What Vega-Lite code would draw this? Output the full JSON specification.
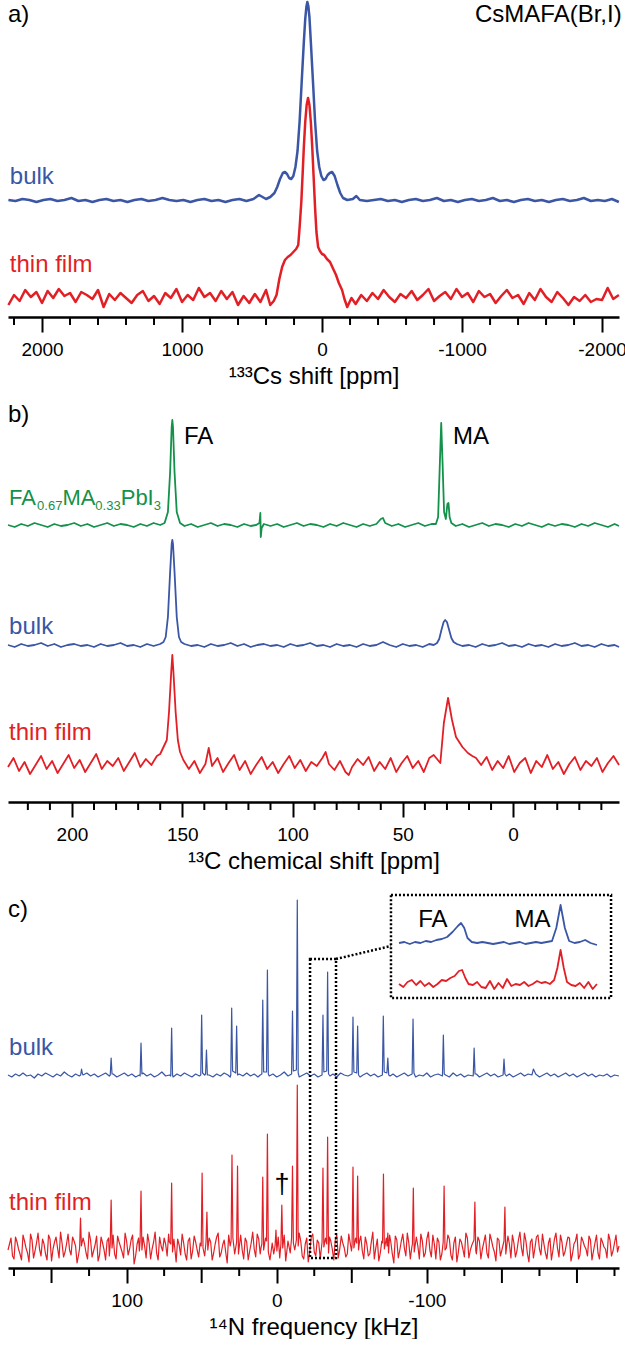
{
"$schema": "https://vega.github.io/schema/vega-lite/v6.json",
"padding": {"left": 7, "top": 0, "right": 0, "bottom": 0},
"bounds": "flush",
"spacing": 80,
"config": {
 "view": {"stroke": null},
 "font": "Liberation Sans",
 "axisX": {"domainColor": "#000", "domainWidth": 2.5, "tickColor": "#000", "tickWidth": 2, "labelFont": "Liberation Sans", "labelFontSize": 19, "labelColor": "#000", "labelPadding": 8, "labelOverlap": false, "labelFlush": false, "labelBound": false, "titleFont": "Liberation Sans", "titleFontSize": 24, "titleFontWeight": "normal", "titleColor": "#000", "titlePadding": 5, "grid": false},
 "text": {"font": "Liberation Sans", "fontSize": 24}
},
"datasets": {
 "a": [
{"s":"bulk","f":2240,"i":117},{"s":"bulk","f":2190,"i":116},{"s":"bulk","f":2140,"i":118},{"s":"bulk","f":2090,"i":117},{"s":"bulk","f":2040,"i":115},{"s":"bulk","f":1990,"i":117},{"s":"bulk","f":1940,"i":118},{"s":"bulk","f":1890,"i":116},{"s":"bulk","f":1840,"i":117},{"s":"bulk","f":1790,"i":119},{"s":"bulk","f":1740,"i":116},{"s":"bulk","f":1690,"i":117},{"s":"bulk","f":1640,"i":115},{"s":"bulk","f":1590,"i":117},{"s":"bulk","f":1540,"i":118},{"s":"bulk","f":1490,"i":116},{"s":"bulk","f":1440,"i":117},{"s":"bulk","f":1390,"i":115},{"s":"bulk","f":1340,"i":117},{"s":"bulk","f":1290,"i":118},{"s":"bulk","f":1240,"i":116},{"s":"bulk","f":1190,"i":117},{"s":"bulk","f":1140,"i":119},{"s":"bulk","f":1090,"i":117},{"s":"bulk","f":1040,"i":116},{"s":"bulk","f":990,"i":117},{"s":"bulk","f":940,"i":115},{"s":"bulk","f":890,"i":117},{"s":"bulk","f":840,"i":118},{"s":"bulk","f":790,"i":116},{"s":"bulk","f":740,"i":117},{"s":"bulk","f":690,"i":115},{"s":"bulk","f":640,"i":117},{"s":"bulk","f":590,"i":118},{"s":"bulk","f":540,"i":116},{"s":"bulk","f":490,"i":118},{"s":"bulk","f":450,"i":122},{"s":"bulk","f":425,"i":120},{"s":"bulk","f":400,"i":118},{"s":"bulk","f":370,"i":120},{"s":"bulk","f":340,"i":124},{"s":"bulk","f":320,"i":130},{"s":"bulk","f":300,"i":138},{"s":"bulk","f":280,"i":144},{"s":"bulk","f":265,"i":145},{"s":"bulk","f":250,"i":143},{"s":"bulk","f":235,"i":139},{"s":"bulk","f":220,"i":138},{"s":"bulk","f":205,"i":141},{"s":"bulk","f":190,"i":150},{"s":"bulk","f":175,"i":166},{"s":"bulk","f":160,"i":196},{"s":"bulk","f":145,"i":236},{"s":"bulk","f":130,"i":275},{"s":"bulk","f":120,"i":298},{"s":"bulk","f":112,"i":310},{"s":"bulk","f":105,"i":315},{"s":"bulk","f":98,"i":311},{"s":"bulk","f":90,"i":300},{"s":"bulk","f":80,"i":275},{"s":"bulk","f":65,"i":236},{"s":"bulk","f":50,"i":196},{"s":"bulk","f":35,"i":166},{"s":"bulk","f":20,"i":150},{"s":"bulk","f":5,"i":141},{"s":"bulk","f":-10,"i":137},{"s":"bulk","f":-25,"i":138},{"s":"bulk","f":-40,"i":142},{"s":"bulk","f":-55,"i":144},{"s":"bulk","f":-72,"i":145},{"s":"bulk","f":-90,"i":141},{"s":"bulk","f":-110,"i":132},{"s":"bulk","f":-130,"i":124},{"s":"bulk","f":-150,"i":119},{"s":"bulk","f":-180,"i":117},{"s":"bulk","f":-220,"i":118},{"s":"bulk","f":-245,"i":121},{"s":"bulk","f":-270,"i":117},{"s":"bulk","f":-320,"i":116},{"s":"bulk","f":-370,"i":117},{"s":"bulk","f":-420,"i":118},{"s":"bulk","f":-470,"i":116},{"s":"bulk","f":-520,"i":117},{"s":"bulk","f":-570,"i":115},{"s":"bulk","f":-620,"i":117},{"s":"bulk","f":-670,"i":118},{"s":"bulk","f":-720,"i":116},{"s":"bulk","f":-770,"i":117},{"s":"bulk","f":-820,"i":119},{"s":"bulk","f":-870,"i":116},{"s":"bulk","f":-920,"i":117},{"s":"bulk","f":-970,"i":115},{"s":"bulk","f":-1020,"i":117},{"s":"bulk","f":-1070,"i":118},{"s":"bulk","f":-1120,"i":116},{"s":"bulk","f":-1170,"i":117},{"s":"bulk","f":-1220,"i":119},{"s":"bulk","f":-1270,"i":116},{"s":"bulk","f":-1320,"i":117},{"s":"bulk","f":-1370,"i":115},{"s":"bulk","f":-1420,"i":117},{"s":"bulk","f":-1470,"i":118},{"s":"bulk","f":-1520,"i":116},{"s":"bulk","f":-1570,"i":117},{"s":"bulk","f":-1620,"i":115},{"s":"bulk","f":-1670,"i":117},{"s":"bulk","f":-1720,"i":118},{"s":"bulk","f":-1770,"i":116},{"s":"bulk","f":-1820,"i":117},{"s":"bulk","f":-1870,"i":119},{"s":"bulk","f":-1920,"i":116},{"s":"bulk","f":-1970,"i":117},{"s":"bulk","f":-2020,"i":116},{"s":"bulk","f":-2070,"i":118},{"s":"bulk","f":-2120,"i":115},
{"s":"film","f":2240,"i":12},{"s":"film","f":2200,"i":22},{"s":"film","f":2160,"i":16},{"s":"film","f":2120,"i":27},{"s":"film","f":2080,"i":20},{"s":"film","f":2040,"i":25},{"s":"film","f":2000,"i":14},{"s":"film","f":1960,"i":26},{"s":"film","f":1920,"i":19},{"s":"film","f":1880,"i":28},{"s":"film","f":1840,"i":21},{"s":"film","f":1800,"i":24},{"s":"film","f":1760,"i":15},{"s":"film","f":1720,"i":25},{"s":"film","f":1680,"i":22},{"s":"film","f":1640,"i":18},{"s":"film","f":1600,"i":27},{"s":"film","f":1560,"i":10},{"s":"film","f":1520,"i":23},{"s":"film","f":1480,"i":17},{"s":"film","f":1440,"i":24},{"s":"film","f":1400,"i":19},{"s":"film","f":1360,"i":14},{"s":"film","f":1320,"i":22},{"s":"film","f":1280,"i":26},{"s":"film","f":1240,"i":16},{"s":"film","f":1200,"i":21},{"s":"film","f":1160,"i":13},{"s":"film","f":1120,"i":24},{"s":"film","f":1080,"i":19},{"s":"film","f":1040,"i":28},{"s":"film","f":1000,"i":15},{"s":"film","f":960,"i":22},{"s":"film","f":920,"i":17},{"s":"film","f":880,"i":29},{"s":"film","f":840,"i":20},{"s":"film","f":800,"i":24},{"s":"film","f":760,"i":16},{"s":"film","f":720,"i":26},{"s":"film","f":680,"i":18},{"s":"film","f":640,"i":25},{"s":"film","f":600,"i":12},{"s":"film","f":560,"i":21},{"s":"film","f":520,"i":14},{"s":"film","f":480,"i":23},{"s":"film","f":440,"i":15},{"s":"film","f":400,"i":27},{"s":"film","f":370,"i":12},{"s":"film","f":345,"i":16},{"s":"film","f":325,"i":22},{"s":"film","f":305,"i":38},{"s":"film","f":285,"i":50},{"s":"film","f":265,"i":57},{"s":"film","f":245,"i":60},{"s":"film","f":225,"i":62},{"s":"film","f":205,"i":65},{"s":"film","f":185,"i":68},{"s":"film","f":170,"i":72},{"s":"film","f":160,"i":90},{"s":"film","f":148,"i":115},{"s":"film","f":138,"i":145},{"s":"film","f":130,"i":170},{"s":"film","f":120,"i":195},{"s":"film","f":110,"i":212},{"s":"film","f":100,"i":219},{"s":"film","f":90,"i":212},{"s":"film","f":80,"i":195},{"s":"film","f":70,"i":170},{"s":"film","f":60,"i":140},{"s":"film","f":50,"i":110},{"s":"film","f":40,"i":85},{"s":"film","f":28,"i":70},{"s":"film","f":15,"i":66},{"s":"film","f":0,"i":63},{"s":"film","f":-15,"i":62},{"s":"film","f":-35,"i":58},{"s":"film","f":-57,"i":55},{"s":"film","f":-80,"i":48},{"s":"film","f":-100,"i":42},{"s":"film","f":-120,"i":34},{"s":"film","f":-143,"i":27},{"s":"film","f":-160,"i":18},{"s":"film","f":-180,"i":10},{"s":"film","f":-210,"i":19},{"s":"film","f":-240,"i":13},{"s":"film","f":-280,"i":22},{"s":"film","f":-320,"i":16},{"s":"film","f":-360,"i":24},{"s":"film","f":-400,"i":18},{"s":"film","f":-440,"i":27},{"s":"film","f":-480,"i":20},{"s":"film","f":-520,"i":15},{"s":"film","f":-560,"i":23},{"s":"film","f":-600,"i":19},{"s":"film","f":-640,"i":26},{"s":"film","f":-680,"i":17},{"s":"film","f":-720,"i":22},{"s":"film","f":-760,"i":28},{"s":"film","f":-800,"i":16},{"s":"film","f":-840,"i":21},{"s":"film","f":-880,"i":25},{"s":"film","f":-920,"i":18},{"s":"film","f":-960,"i":28},{"s":"film","f":-1000,"i":20},{"s":"film","f":-1040,"i":24},{"s":"film","f":-1080,"i":15},{"s":"film","f":-1120,"i":26},{"s":"film","f":-1160,"i":20},{"s":"film","f":-1200,"i":23},{"s":"film","f":-1240,"i":14},{"s":"film","f":-1280,"i":21},{"s":"film","f":-1320,"i":27},{"s":"film","f":-1360,"i":19},{"s":"film","f":-1400,"i":22},{"s":"film","f":-1440,"i":13},{"s":"film","f":-1480,"i":24},{"s":"film","f":-1520,"i":17},{"s":"film","f":-1560,"i":28},{"s":"film","f":-1600,"i":20},{"s":"film","f":-1640,"i":15},{"s":"film","f":-1680,"i":25},{"s":"film","f":-1720,"i":19},{"s":"film","f":-1760,"i":12},{"s":"film","f":-1800,"i":20},{"s":"film","f":-1840,"i":16},{"s":"film","f":-1880,"i":22},{"s":"film","f":-1920,"i":15},{"s":"film","f":-1960,"i":18},{"s":"film","f":-2000,"i":17},{"s":"film","f":-2040,"i":29},{"s":"film","f":-2080,"i":18},{"s":"film","f":-2120,"i":22}
 ],
 "aT": [
{"t":"a)","x":2243,"y":302,"s":"k"},
{"t":"bulk","x":2230,"y":140,"s":"bulk"},
{"t":"thin film","x":2230,"y":52,"s":"film"}
 ],
 "aR": [{"t":"CsMAFA(Br,I)","x":-2140,"y":302,"s":"k"}],
 "aTick": [{"v":2200},{"v":1800},{"v":1600},{"v":1400},{"v":1200},{"v":800},{"v":600},{"v":400},{"v":200},{"v":-200},{"v":-400},{"v":-600},{"v":-800},{"v":-1200},{"v":-1400},{"v":-1600},{"v":-1800}],
 "b": [
{"s":"fama","f":229,"i":277},{"s":"fama","f":226,"i":275},{"s":"fama","f":223,"i":278},{"s":"fama","f":220,"i":276},{"s":"fama","f":217,"i":279},{"s":"fama","f":214,"i":277},{"s":"fama","f":211,"i":275},{"s":"fama","f":208,"i":278},{"s":"fama","f":205,"i":276},{"s":"fama","f":202,"i":277},{"s":"fama","f":199,"i":279},{"s":"fama","f":196,"i":276},{"s":"fama","f":193,"i":278},{"s":"fama","f":190,"i":275},{"s":"fama","f":187,"i":277},{"s":"fama","f":184,"i":279},{"s":"fama","f":181,"i":276},{"s":"fama","f":178,"i":278},{"s":"fama","f":175,"i":277},{"s":"fama","f":172,"i":275},{"s":"fama","f":169,"i":278},{"s":"fama","f":166,"i":276},{"s":"fama","f":163,"i":279},{"s":"fama","f":160,"i":277},{"s":"fama","f":158,"i":279},{"s":"fama","f":156.5,"i":290},{"s":"fama","f":155.5,"i":330},{"s":"fama","f":154.8,"i":375},{"s":"fama","f":154.5,"i":382},{"s":"fama","f":154.2,"i":375},{"s":"fama","f":153.5,"i":330},{"s":"fama","f":152.5,"i":290},{"s":"fama","f":151,"i":279},{"s":"fama","f":149,"i":276},{"s":"fama","f":146,"i":278},{"s":"fama","f":143,"i":275},{"s":"fama","f":140,"i":277},{"s":"fama","f":137,"i":279},{"s":"fama","f":134,"i":276},{"s":"fama","f":131,"i":278},{"s":"fama","f":128,"i":277},{"s":"fama","f":125,"i":275},{"s":"fama","f":122,"i":278},{"s":"fama","f":119,"i":276},{"s":"fama","f":116.5,"i":277},{"s":"fama","f":115,"i":279},{"s":"fama","f":114.6,"i":289},{"s":"fama","f":114.4,"i":265},{"s":"fama","f":114,"i":274},{"s":"fama","f":113,"i":278},{"s":"fama","f":110,"i":276},{"s":"fama","f":107,"i":278},{"s":"fama","f":104,"i":275},{"s":"fama","f":101,"i":277},{"s":"fama","f":98,"i":279},{"s":"fama","f":95,"i":276},{"s":"fama","f":92,"i":278},{"s":"fama","f":89,"i":277},{"s":"fama","f":86,"i":275},{"s":"fama","f":83,"i":278},{"s":"fama","f":80,"i":276},{"s":"fama","f":77,"i":279},{"s":"fama","f":74,"i":277},{"s":"fama","f":71,"i":275},{"s":"fama","f":68,"i":278},{"s":"fama","f":65,"i":276},{"s":"fama","f":62,"i":278},{"s":"fama","f":60,"i":283},{"s":"fama","f":59,"i":284},{"s":"fama","f":58,"i":279},{"s":"fama","f":55,"i":276},{"s":"fama","f":52,"i":278},{"s":"fama","f":49,"i":275},{"s":"fama","f":46,"i":277},{"s":"fama","f":43,"i":279},{"s":"fama","f":40,"i":276},{"s":"fama","f":37,"i":278},{"s":"fama","f":35,"i":278},{"s":"fama","f":34,"i":285},{"s":"fama","f":33.2,"i":340},{"s":"fama","f":32.6,"i":379},{"s":"fama","f":32,"i":340},{"s":"fama","f":31.3,"i":290},{"s":"fama","f":30.5,"i":283},{"s":"fama","f":29.8,"i":298},{"s":"fama","f":29.3,"i":299},{"s":"fama","f":28.8,"i":285},{"s":"fama","f":28,"i":279},{"s":"fama","f":26,"i":276},{"s":"fama","f":23,"i":278},{"s":"fama","f":20,"i":275},{"s":"fama","f":17,"i":277},{"s":"fama","f":14,"i":279},{"s":"fama","f":11,"i":276},{"s":"fama","f":8,"i":278},{"s":"fama","f":5,"i":277},{"s":"fama","f":2,"i":275},{"s":"fama","f":-1,"i":278},{"s":"fama","f":-4,"i":276},{"s":"fama","f":-7,"i":279},{"s":"fama","f":-10,"i":277},{"s":"fama","f":-13,"i":275},{"s":"fama","f":-16,"i":278},{"s":"fama","f":-19,"i":276},{"s":"fama","f":-22,"i":278},{"s":"fama","f":-25,"i":277},{"s":"fama","f":-28,"i":275},{"s":"fama","f":-31,"i":278},{"s":"fama","f":-34,"i":276},{"s":"fama","f":-37,"i":279},{"s":"fama","f":-40,"i":277},{"s":"fama","f":-43,"i":275},{"s":"fama","f":-46,"i":278},{"s":"fama","f":-48,"i":276},
{"s":"bulk","f":229,"i":157},{"s":"bulk","f":226,"i":155},{"s":"bulk","f":223,"i":158},{"s":"bulk","f":220,"i":156},{"s":"bulk","f":217,"i":157},{"s":"bulk","f":214,"i":159},{"s":"bulk","f":211,"i":156},{"s":"bulk","f":208,"i":158},{"s":"bulk","f":205,"i":155},{"s":"bulk","f":202,"i":157},{"s":"bulk","f":199,"i":158},{"s":"bulk","f":196,"i":156},{"s":"bulk","f":193,"i":157},{"s":"bulk","f":190,"i":155},{"s":"bulk","f":187,"i":158},{"s":"bulk","f":184,"i":156},{"s":"bulk","f":181,"i":157},{"s":"bulk","f":178,"i":159},{"s":"bulk","f":175,"i":156},{"s":"bulk","f":172,"i":157},{"s":"bulk","f":169,"i":155},{"s":"bulk","f":166,"i":158},{"s":"bulk","f":163,"i":156},{"s":"bulk","f":160,"i":158},{"s":"bulk","f":158.5,"i":160},{"s":"bulk","f":157.5,"i":165},{"s":"bulk","f":156.5,"i":185},{"s":"bulk","f":155.5,"i":230},{"s":"bulk","f":154.8,"i":258},{"s":"bulk","f":154.5,"i":262},{"s":"bulk","f":154.2,"i":258},{"s":"bulk","f":153.5,"i":230},{"s":"bulk","f":152.5,"i":185},{"s":"bulk","f":151.5,"i":165},{"s":"bulk","f":150.5,"i":160},{"s":"bulk","f":149,"i":158},{"s":"bulk","f":146,"i":156},{"s":"bulk","f":143,"i":157},{"s":"bulk","f":140,"i":155},{"s":"bulk","f":137,"i":158},{"s":"bulk","f":134,"i":156},{"s":"bulk","f":131,"i":157},{"s":"bulk","f":128,"i":159},{"s":"bulk","f":125,"i":156},{"s":"bulk","f":122,"i":158},{"s":"bulk","f":119,"i":155},{"s":"bulk","f":116,"i":157},{"s":"bulk","f":113,"i":158},{"s":"bulk","f":110,"i":156},{"s":"bulk","f":107,"i":157},{"s":"bulk","f":104,"i":155},{"s":"bulk","f":101,"i":158},{"s":"bulk","f":98,"i":156},{"s":"bulk","f":95,"i":157},{"s":"bulk","f":92,"i":159},{"s":"bulk","f":89,"i":156},{"s":"bulk","f":86,"i":157},{"s":"bulk","f":83,"i":155},{"s":"bulk","f":80,"i":158},{"s":"bulk","f":77,"i":156},{"s":"bulk","f":74,"i":157},{"s":"bulk","f":71,"i":155},{"s":"bulk","f":68,"i":158},{"s":"bulk","f":65,"i":156},{"s":"bulk","f":62,"i":157},{"s":"bulk","f":59,"i":160},{"s":"bulk","f":56,"i":157},{"s":"bulk","f":53,"i":155},{"s":"bulk","f":50,"i":158},{"s":"bulk","f":47,"i":156},{"s":"bulk","f":44,"i":157},{"s":"bulk","f":41,"i":155},{"s":"bulk","f":38,"i":158},{"s":"bulk","f":36,"i":157},{"s":"bulk","f":34.5,"i":159},{"s":"bulk","f":33.5,"i":163},{"s":"bulk","f":32.5,"i":172},{"s":"bulk","f":31.5,"i":180},{"s":"bulk","f":30.8,"i":182},{"s":"bulk","f":30,"i":180},{"s":"bulk","f":29,"i":172},{"s":"bulk","f":28,"i":164},{"s":"bulk","f":27,"i":160},{"s":"bulk","f":25.5,"i":158},{"s":"bulk","f":23,"i":156},{"s":"bulk","f":20,"i":157},{"s":"bulk","f":17,"i":155},{"s":"bulk","f":14,"i":158},{"s":"bulk","f":11,"i":156},{"s":"bulk","f":8,"i":157},{"s":"bulk","f":5,"i":159},{"s":"bulk","f":2,"i":156},{"s":"bulk","f":-1,"i":157},{"s":"bulk","f":-4,"i":155},{"s":"bulk","f":-7,"i":158},{"s":"bulk","f":-10,"i":156},{"s":"bulk","f":-13,"i":157},{"s":"bulk","f":-16,"i":155},{"s":"bulk","f":-19,"i":158},{"s":"bulk","f":-22,"i":156},{"s":"bulk","f":-25,"i":157},{"s":"bulk","f":-28,"i":159},{"s":"bulk","f":-31,"i":156},{"s":"bulk","f":-34,"i":157},{"s":"bulk","f":-37,"i":155},{"s":"bulk","f":-40,"i":158},{"s":"bulk","f":-43,"i":156},{"s":"bulk","f":-46,"i":157},{"s":"bulk","f":-48,"i":155},
{"s":"film","f":229,"i":35},{"s":"film","f":226.5,"i":44},{"s":"film","f":224,"i":31},{"s":"film","f":221.5,"i":40},{"s":"film","f":219,"i":28},{"s":"film","f":216.5,"i":37},{"s":"film","f":214,"i":46},{"s":"film","f":211.5,"i":33},{"s":"film","f":209,"i":41},{"s":"film","f":206.5,"i":29},{"s":"film","f":204,"i":38},{"s":"film","f":201.5,"i":47},{"s":"film","f":199,"i":34},{"s":"film","f":196.5,"i":42},{"s":"film","f":194,"i":30},{"s":"film","f":191.5,"i":39},{"s":"film","f":189,"i":48},{"s":"film","f":186.5,"i":33},{"s":"film","f":184,"i":41},{"s":"film","f":181.5,"i":36},{"s":"film","f":179,"i":44},{"s":"film","f":176.5,"i":31},{"s":"film","f":174,"i":40},{"s":"film","f":171.5,"i":49},{"s":"film","f":169,"i":35},{"s":"film","f":166.5,"i":43},{"s":"film","f":164,"i":37},{"s":"film","f":161.5,"i":46},{"s":"film","f":160,"i":48},{"s":"film","f":158.5,"i":55},{"s":"film","f":157,"i":62},{"s":"film","f":156,"i":90},{"s":"film","f":155,"i":130},{"s":"film","f":154.5,"i":147},{"s":"film","f":154,"i":130},{"s":"film","f":153,"i":90},{"s":"film","f":152,"i":62},{"s":"film","f":151,"i":50},{"s":"film","f":149.5,"i":42},{"s":"film","f":147,"i":33},{"s":"film","f":144.5,"i":41},{"s":"film","f":142,"i":29},{"s":"film","f":139.5,"i":38},{"s":"film","f":138,"i":54},{"s":"film","f":136.5,"i":36},{"s":"film","f":134,"i":44},{"s":"film","f":131.5,"i":30},{"s":"film","f":129,"i":39},{"s":"film","f":126.5,"i":47},{"s":"film","f":124,"i":32},{"s":"film","f":121.5,"i":41},{"s":"film","f":119,"i":28},{"s":"film","f":116.5,"i":37},{"s":"film","f":114,"i":45},{"s":"film","f":111.5,"i":33},{"s":"film","f":109,"i":40},{"s":"film","f":106.5,"i":29},{"s":"film","f":104,"i":38},{"s":"film","f":101.5,"i":46},{"s":"film","f":99,"i":34},{"s":"film","f":96.5,"i":42},{"s":"film","f":94,"i":31},{"s":"film","f":91.5,"i":40},{"s":"film","f":89,"i":36},{"s":"film","f":86.5,"i":44},{"s":"film","f":85,"i":50},{"s":"film","f":83.5,"i":38},{"s":"film","f":81,"i":32},{"s":"film","f":78.5,"i":41},{"s":"film","f":76,"i":30},{"s":"film","f":74.5,"i":27},{"s":"film","f":73,"i":35},{"s":"film","f":70.5,"i":43},{"s":"film","f":68,"i":37},{"s":"film","f":65.5,"i":45},{"s":"film","f":63,"i":31},{"s":"film","f":60.5,"i":40},{"s":"film","f":58,"i":33},{"s":"film","f":55.5,"i":44},{"s":"film","f":53,"i":30},{"s":"film","f":50.5,"i":39},{"s":"film","f":48,"i":46},{"s":"film","f":45.5,"i":34},{"s":"film","f":43,"i":41},{"s":"film","f":40.5,"i":30},{"s":"film","f":38,"i":44},{"s":"film","f":36,"i":47},{"s":"film","f":34.5,"i":43},{"s":"film","f":33,"i":39},{"s":"film","f":31.4,"i":79},{"s":"film","f":29.5,"i":104},{"s":"film","f":27.7,"i":82},{"s":"film","f":25.9,"i":65},{"s":"film","f":23,"i":55},{"s":"film","f":20.5,"i":49},{"s":"film","f":18.5,"i":46},{"s":"film","f":16.8,"i":44},{"s":"film","f":14.5,"i":37},{"s":"film","f":12,"i":45},{"s":"film","f":9.5,"i":32},{"s":"film","f":7,"i":41},{"s":"film","f":4.5,"i":34},{"s":"film","f":2,"i":46},{"s":"film","f":-0.5,"i":30},{"s":"film","f":-3,"i":39},{"s":"film","f":-5.5,"i":44},{"s":"film","f":-8,"i":29},{"s":"film","f":-10.5,"i":41},{"s":"film","f":-13,"i":35},{"s":"film","f":-15.5,"i":47},{"s":"film","f":-18,"i":33},{"s":"film","f":-20.5,"i":40},{"s":"film","f":-23,"i":28},{"s":"film","f":-25.5,"i":38},{"s":"film","f":-28,"i":45},{"s":"film","f":-30.5,"i":32},{"s":"film","f":-33,"i":41},{"s":"film","f":-35.5,"i":36},{"s":"film","f":-38,"i":44},{"s":"film","f":-40.5,"i":30},{"s":"film","f":-43,"i":39},{"s":"film","f":-45.5,"i":46},{"s":"film","f":-48,"i":37}
 ],
 "bT": [
{"t":"b)","x":229,"y":387,"s":"k"},
{"t":"FA","x":149.2,"y":365,"s":"k"},
{"t":"MA","x":27.3,"y":365,"s":"k"},
{"t":"bulk","x":228.5,"y":175,"s":"bulk"},
{"t":"thin film","x":228.5,"y":69,"s":"film"}
 ],
 "bG": [
{"t":"FA","x":228.55,"y":297},
{"t":"MA","x":204.3,"y":297},
{"t":"PbI","x":177.9,"y":297}
 ],
 "bGs": [
{"t":"0.67","x":215.8,"y":292},
{"t":"0.33","x":189.4,"y":292},
{"t":"3","x":162.95,"y":292}
 ],
 "bTick": [{"v":220},{"v":210},{"v":190},{"v":180},{"v":170},{"v":160},{"v":140},{"v":130},{"v":120},{"v":110},{"v":90},{"v":80},{"v":70},{"v":60},{"v":40},{"v":30},{"v":20},{"v":10},{"v":-10},{"v":-20},{"v":-30},{"v":-40}],
 "c": [
{"s":"bulk","f":179,"i":193},{"s":"bulk","f":176.5,"i":191},{"s":"bulk","f":174,"i":194},{"s":"bulk","f":171.5,"i":192},{"s":"bulk","f":169,"i":195},{"s":"bulk","f":166.5,"i":192},{"s":"bulk","f":164,"i":193},{"s":"bulk","f":161.5,"i":190},{"s":"bulk","f":159,"i":194},{"s":"bulk","f":156.5,"i":192},{"s":"bulk","f":154,"i":195},{"s":"bulk","f":151.5,"i":193},{"s":"bulk","f":149,"i":191},{"s":"bulk","f":146.5,"i":194},{"s":"bulk","f":144,"i":192},{"s":"bulk","f":141.5,"i":196},{"s":"bulk","f":139,"i":193},{"s":"bulk","f":136.5,"i":191},{"s":"bulk","f":134,"i":194},{"s":"bulk","f":131.5,"i":192},{"s":"bulk","f":130.6,"i":193},{"s":"bulk","f":130,"i":199},{"s":"bulk","f":129.4,"i":194},{"s":"bulk","f":129,"i":193},{"s":"bulk","f":126.5,"i":195},{"s":"bulk","f":124,"i":192},{"s":"bulk","f":121.5,"i":194},{"s":"bulk","f":119,"i":191},{"s":"bulk","f":116.5,"i":193},{"s":"bulk","f":114,"i":195},{"s":"bulk","f":111.5,"i":192},{"s":"bulk","f":110.9,"i":193},{"s":"bulk","f":110.3,"i":210},{"s":"bulk","f":109.7,"i":194},{"s":"bulk","f":109,"i":194},{"s":"bulk","f":106.5,"i":191},{"s":"bulk","f":104,"i":193},{"s":"bulk","f":101.5,"i":195},{"s":"bulk","f":99,"i":192},{"s":"bulk","f":96.5,"i":194},{"s":"bulk","f":94,"i":191},{"s":"bulk","f":91.5,"i":193},{"s":"bulk","f":91,"i":192},{"s":"bulk","f":90.4,"i":225},{"s":"bulk","f":89.8,"i":194},{"s":"bulk","f":89,"i":195},{"s":"bulk","f":86.5,"i":192},{"s":"bulk","f":84,"i":194},{"s":"bulk","f":81.5,"i":191},{"s":"bulk","f":79,"i":193},{"s":"bulk","f":76.5,"i":196},{"s":"bulk","f":74,"i":192},{"s":"bulk","f":71.5,"i":193},{"s":"bulk","f":70.6,"i":192},{"s":"bulk","f":70,"i":240},{"s":"bulk","f":69.4,"i":193},{"s":"bulk","f":69,"i":191},{"s":"bulk","f":66.5,"i":194},{"s":"bulk","f":64,"i":192},{"s":"bulk","f":61.5,"i":195},{"s":"bulk","f":59,"i":193},{"s":"bulk","f":56.5,"i":191},{"s":"bulk","f":54,"i":194},{"s":"bulk","f":51.5,"i":192},{"s":"bulk","f":50.6,"i":193},{"s":"bulk","f":50,"i":253},{"s":"bulk","f":49.4,"i":195},{"s":"bulk","f":48,"i":193},{"s":"bulk","f":47.4,"i":194},{"s":"bulk","f":46.8,"i":218},{"s":"bulk","f":46.2,"i":193},{"s":"bulk","f":45,"i":193},{"s":"bulk","f":42.5,"i":191},{"s":"bulk","f":40,"i":194},{"s":"bulk","f":37.5,"i":192},{"s":"bulk","f":35,"i":195},{"s":"bulk","f":32.5,"i":193},{"s":"bulk","f":31,"i":191},{"s":"bulk","f":30.6,"i":193},{"s":"bulk","f":30,"i":260},{"s":"bulk","f":29.4,"i":197},{"s":"bulk","f":27.3,"i":195},{"s":"bulk","f":26.7,"i":242},{"s":"bulk","f":26.1,"i":193},{"s":"bulk","f":25,"i":194},{"s":"bulk","f":22.5,"i":192},{"s":"bulk","f":20,"i":195},{"s":"bulk","f":17.5,"i":192},{"s":"bulk","f":15,"i":194},{"s":"bulk","f":12.5,"i":191},{"s":"bulk","f":11,"i":193},{"s":"bulk","f":9.9,"i":194},{"s":"bulk","f":9.3,"i":268},{"s":"bulk","f":8.7,"i":196},{"s":"bulk","f":6.8,"i":196},{"s":"bulk","f":6.2,"i":298},{"s":"bulk","f":5.6,"i":194},{"s":"bulk","f":5,"i":192},{"s":"bulk","f":2.5,"i":194},{"s":"bulk","f":0,"i":191},{"s":"bulk","f":-2.5,"i":193},{"s":"bulk","f":-5,"i":196},{"s":"bulk","f":-7.5,"i":192},{"s":"bulk","f":-9.9,"i":194},{"s":"bulk","f":-10.5,"i":257},{"s":"bulk","f":-11.1,"i":197},{"s":"bulk","f":-13.1,"i":198},{"s":"bulk","f":-13.7,"i":368},{"s":"bulk","f":-14.3,"i":195},{"s":"bulk","f":-15,"i":191},{"s":"bulk","f":-17.5,"i":193},{"s":"bulk","f":-20,"i":195},{"s":"bulk","f":-22.5,"i":192},{"s":"bulk","f":-25,"i":194},{"s":"bulk","f":-27.5,"i":191},{"s":"bulk","f":-30.2,"i":193},{"s":"bulk","f":-30.8,"i":253},{"s":"bulk","f":-31.4,"i":196},{"s":"bulk","f":-33.3,"i":197},{"s":"bulk","f":-33.9,"i":296},{"s":"bulk","f":-34.5,"i":194},{"s":"bulk","f":-35.5,"i":192},{"s":"bulk","f":-37.5,"i":194},{"s":"bulk","f":-40,"i":191},{"s":"bulk","f":-42.5,"i":195},{"s":"bulk","f":-45,"i":193},{"s":"bulk","f":-47.5,"i":192},{"s":"bulk","f":-50.2,"i":194},{"s":"bulk","f":-50.8,"i":251},{"s":"bulk","f":-51.4,"i":196},{"s":"bulk","f":-53.3,"i":195},{"s":"bulk","f":-53.9,"i":242},{"s":"bulk","f":-54.5,"i":193},{"s":"bulk","f":-55.5,"i":191},{"s":"bulk","f":-57.5,"i":193},{"s":"bulk","f":-60,"i":195},{"s":"bulk","f":-62.5,"i":192},{"s":"bulk","f":-65,"i":194},{"s":"bulk","f":-67.5,"i":191},{"s":"bulk","f":-70.4,"i":193},{"s":"bulk","f":-71,"i":252},{"s":"bulk","f":-71.6,"i":196},{"s":"bulk","f":-73.4,"i":195},{"s":"bulk","f":-74,"i":210},{"s":"bulk","f":-74.6,"i":193},{"s":"bulk","f":-75.5,"i":192},{"s":"bulk","f":-77.5,"i":194},{"s":"bulk","f":-80,"i":191},{"s":"bulk","f":-82.5,"i":193},{"s":"bulk","f":-85,"i":195},{"s":"bulk","f":-87.5,"i":192},{"s":"bulk","f":-90.2,"i":194},{"s":"bulk","f":-90.8,"i":249},{"s":"bulk","f":-91.4,"i":195},{"s":"bulk","f":-92.5,"i":191},{"s":"bulk","f":-95,"i":193},{"s":"bulk","f":-97.5,"i":192},{"s":"bulk","f":-100,"i":195},{"s":"bulk","f":-102.5,"i":191},{"s":"bulk","f":-105,"i":193},{"s":"bulk","f":-107.5,"i":194},{"s":"bulk","f":-110.4,"i":192},{"s":"bulk","f":-111,"i":233},{"s":"bulk","f":-111.6,"i":194},{"s":"bulk","f":-112.5,"i":193},{"s":"bulk","f":-115,"i":191},{"s":"bulk","f":-117.5,"i":195},{"s":"bulk","f":-120,"i":192},{"s":"bulk","f":-122.5,"i":194},{"s":"bulk","f":-125,"i":191},{"s":"bulk","f":-127.5,"i":193},{"s":"bulk","f":-130.9,"i":192},{"s":"bulk","f":-131.5,"i":220},{"s":"bulk","f":-132.1,"i":194},{"s":"bulk","f":-133,"i":194},{"s":"bulk","f":-135,"i":191},{"s":"bulk","f":-137.5,"i":193},{"s":"bulk","f":-140,"i":195},{"s":"bulk","f":-142.5,"i":192},{"s":"bulk","f":-145,"i":194},{"s":"bulk","f":-147.5,"i":191},{"s":"bulk","f":-150.8,"i":193},{"s":"bulk","f":-151.4,"i":209},{"s":"bulk","f":-152,"i":194},{"s":"bulk","f":-153,"i":192},{"s":"bulk","f":-155,"i":194},{"s":"bulk","f":-157.5,"i":191},{"s":"bulk","f":-160,"i":193},{"s":"bulk","f":-162.5,"i":195},{"s":"bulk","f":-165,"i":192},{"s":"bulk","f":-167.5,"i":194},{"s":"bulk","f":-170,"i":193},{"s":"bulk","f":-171,"i":199},{"s":"bulk","f":-172.5,"i":194},{"s":"bulk","f":-175,"i":191},{"s":"bulk","f":-177.5,"i":193},{"s":"bulk","f":-180,"i":195},{"s":"bulk","f":-182.5,"i":192},{"s":"bulk","f":-185,"i":194},{"s":"bulk","f":-187.5,"i":191},{"s":"bulk","f":-190,"i":193},{"s":"bulk","f":-192.5,"i":195},{"s":"bulk","f":-195,"i":192},{"s":"bulk","f":-197.5,"i":194},{"s":"bulk","f":-200,"i":191},{"s":"bulk","f":-202.5,"i":193},{"s":"bulk","f":-205,"i":195},{"s":"bulk","f":-207.5,"i":192},{"s":"bulk","f":-210,"i":194},{"s":"bulk","f":-212.5,"i":191},{"s":"bulk","f":-215,"i":193},{"s":"bulk","f":-217.5,"i":192},{"s":"bulk","f":-220,"i":194},{"s":"bulk","f":-222.5,"i":191},{"s":"bulk","f":-225,"i":193},{"s":"bulk","f":-228,"i":192},
{"s":"film","f":179,"i":18},{"s":"film","f":178,"i":24},{"s":"film","f":177,"i":30},{"s":"film","f":176,"i":12},{"s":"film","f":175,"i":9},{"s":"film","f":174,"i":31},{"s":"film","f":173,"i":26},{"s":"film","f":172,"i":19},{"s":"film","f":171,"i":14},{"s":"film","f":170,"i":8},{"s":"film","f":169,"i":33},{"s":"film","f":168,"i":27},{"s":"film","f":167,"i":20},{"s":"film","f":166,"i":15},{"s":"film","f":165,"i":6},{"s":"film","f":164,"i":34},{"s":"film","f":163,"i":28},{"s":"film","f":162,"i":10},{"s":"film","f":161,"i":17},{"s":"film","f":160,"i":25},{"s":"film","f":159,"i":35},{"s":"film","f":158,"i":19},{"s":"film","f":157,"i":12},{"s":"film","f":156,"i":29},{"s":"film","f":155,"i":24},{"s":"film","f":154,"i":14},{"s":"film","f":153,"i":8},{"s":"film","f":152,"i":33},{"s":"film","f":151,"i":29},{"s":"film","f":150,"i":7},{"s":"film","f":149,"i":19},{"s":"film","f":148,"i":26},{"s":"film","f":147,"i":31},{"s":"film","f":146,"i":20},{"s":"film","f":145,"i":10},{"s":"film","f":144,"i":36},{"s":"film","f":143,"i":25},{"s":"film","f":142,"i":11},{"s":"film","f":141,"i":16},{"s":"film","f":140,"i":24},{"s":"film","f":139,"i":34},{"s":"film","f":138,"i":18},{"s":"film","f":137,"i":13},{"s":"film","f":136,"i":31},{"s":"film","f":135,"i":27},{"s":"film","f":134,"i":22},{"s":"film","f":133,"i":5},{"s":"film","f":132,"i":13},{"s":"film","f":131.3,"i":20},{"s":"film","f":130.7,"i":50},{"s":"film","f":130.1,"i":22},{"s":"film","f":129,"i":30},{"s":"film","f":128,"i":24},{"s":"film","f":127,"i":15},{"s":"film","f":126,"i":9},{"s":"film","f":125,"i":36},{"s":"film","f":124,"i":28},{"s":"film","f":123,"i":11},{"s":"film","f":122,"i":17},{"s":"film","f":121,"i":23},{"s":"film","f":120,"i":32},{"s":"film","f":119,"i":7},{"s":"film","f":118,"i":13},{"s":"film","f":117,"i":31},{"s":"film","f":116,"i":25},{"s":"film","f":115,"i":18},{"s":"film","f":114,"i":8},{"s":"film","f":113,"i":27},{"s":"film","f":112,"i":30},{"s":"film","f":111.5,"i":12},{"s":"film","f":110.9,"i":24},{"s":"film","f":110.3,"i":68},{"s":"film","f":109.7,"i":20},{"s":"film","f":109,"i":33},{"s":"film","f":108,"i":14},{"s":"film","f":107,"i":9},{"s":"film","f":106,"i":32},{"s":"film","f":105,"i":26},{"s":"film","f":104,"i":21},{"s":"film","f":103,"i":16},{"s":"film","f":102,"i":10},{"s":"film","f":101,"i":35},{"s":"film","f":100,"i":27},{"s":"film","f":99,"i":13},{"s":"film","f":98,"i":19},{"s":"film","f":97,"i":28},{"s":"film","f":96,"i":33},{"s":"film","f":95,"i":4},{"s":"film","f":94,"i":12},{"s":"film","f":93,"i":24},{"s":"film","f":92,"i":30},{"s":"film","f":91.5,"i":17},{"s":"film","f":91,"i":27},{"s":"film","f":90.4,"i":77},{"s":"film","f":89.8,"i":18},{"s":"film","f":89,"i":31},{"s":"film","f":88,"i":22},{"s":"film","f":87,"i":10},{"s":"film","f":86,"i":34},{"s":"film","f":85,"i":25},{"s":"film","f":84,"i":9},{"s":"film","f":83,"i":19},{"s":"film","f":82,"i":26},{"s":"film","f":81,"i":36},{"s":"film","f":80,"i":15},{"s":"film","f":79,"i":8},{"s":"film","f":78,"i":31},{"s":"film","f":77,"i":22},{"s":"film","f":76,"i":17},{"s":"film","f":75,"i":30},{"s":"film","f":74,"i":24},{"s":"film","f":73,"i":12},{"s":"film","f":72,"i":34},{"s":"film","f":71.5,"i":26},{"s":"film","f":70.6,"i":24},{"s":"film","f":70,"i":85},{"s":"film","f":69.4,"i":16},{"s":"film","f":68.5,"i":29},{"s":"film","f":67,"i":6},{"s":"film","f":66,"i":29},{"s":"film","f":65,"i":23},{"s":"film","f":64,"i":13},{"s":"film","f":63,"i":34},{"s":"film","f":62,"i":25},{"s":"film","f":61,"i":14},{"s":"film","f":60,"i":8},{"s":"film","f":59,"i":27},{"s":"film","f":58,"i":30},{"s":"film","f":57,"i":9},{"s":"film","f":56,"i":17},{"s":"film","f":55,"i":32},{"s":"film","f":54,"i":26},{"s":"film","f":53,"i":18},{"s":"film","f":52,"i":11},{"s":"film","f":51,"i":25},{"s":"film","f":50.3,"i":22},{"s":"film","f":49.7,"i":95},{"s":"film","f":49.1,"i":20},{"s":"film","f":48,"i":12},{"s":"film","f":47.1,"i":26},{"s":"film","f":46.5,"i":56},{"s":"film","f":45.9,"i":18},{"s":"film","f":45,"i":30},{"s":"film","f":44,"i":26},{"s":"film","f":43,"i":8},{"s":"film","f":42,"i":15},{"s":"film","f":41,"i":24},{"s":"film","f":40,"i":31},{"s":"film","f":39,"i":35},{"s":"film","f":38,"i":11},{"s":"film","f":37,"i":15},{"s":"film","f":36,"i":23},{"s":"film","f":35,"i":28},{"s":"film","f":34,"i":16},{"s":"film","f":33,"i":5},{"s":"film","f":32,"i":33},{"s":"film","f":31,"i":22},{"s":"film","f":30.4,"i":27},{"s":"film","f":29.8,"i":113},{"s":"film","f":29.2,"i":30},{"s":"film","f":28,"i":14},{"s":"film","f":26.7,"i":26},{"s":"film","f":26.1,"i":102},{"s":"film","f":25.5,"i":14},{"s":"film","f":24,"i":33},{"s":"film","f":23,"i":18},{"s":"film","f":22,"i":9},{"s":"film","f":21,"i":30},{"s":"film","f":20,"i":26},{"s":"film","f":19,"i":8},{"s":"film","f":18,"i":17},{"s":"film","f":17,"i":25},{"s":"film","f":16,"i":36},{"s":"film","f":15,"i":19},{"s":"film","f":14,"i":11},{"s":"film","f":13,"i":34},{"s":"film","f":12,"i":29},{"s":"film","f":11,"i":14},{"s":"film","f":10.5,"i":20},{"s":"film","f":9.9,"i":24},{"s":"film","f":9.3,"i":91},{"s":"film","f":8.7,"i":18},{"s":"film","f":7.5,"i":30},{"s":"film","f":6.8,"i":27},{"s":"film","f":6.2,"i":134},{"s":"film","f":5.6,"i":16},{"s":"film","f":4.5,"i":8},{"s":"film","f":3,"i":25},{"s":"film","f":2,"i":14},{"s":"film","f":1.1,"i":22},{"s":"film","f":0.5,"i":38},{"s":"film","f":-0.1,"i":17},{"s":"film","f":-1,"i":31},{"s":"film","f":-2,"i":10},{"s":"film","f":-2.8,"i":24},{"s":"film","f":-3.4,"i":63},{"s":"film","f":-4,"i":20},{"s":"film","f":-5,"i":33},{"s":"film","f":-6,"i":7},{"s":"film","f":-7.5,"i":27},{"s":"film","f":-9,"i":15},{"s":"film","f":-9.9,"i":30},{"s":"film","f":-10.5,"i":102},{"s":"film","f":-11.1,"i":25},{"s":"film","f":-12,"i":18},{"s":"film","f":-13.1,"i":28},{"s":"film","f":-13.7,"i":183},{"s":"film","f":-14.3,"i":22},{"s":"film","f":-15,"i":35},{"s":"film","f":-16,"i":27},{"s":"film","f":-17,"i":12},{"s":"film","f":-18,"i":9},{"s":"film","f":-19,"i":24},{"s":"film","f":-20,"i":30},{"s":"film","f":-21,"i":6},{"s":"film","f":-22,"i":16},{"s":"film","f":-23,"i":31},{"s":"film","f":-24,"i":34},{"s":"film","f":-25,"i":16},{"s":"film","f":-26,"i":12},{"s":"film","f":-27,"i":28},{"s":"film","f":-28,"i":25},{"s":"film","f":-29,"i":9},{"s":"film","f":-30.2,"i":26},{"s":"film","f":-30.8,"i":100},{"s":"film","f":-31.4,"i":21},{"s":"film","f":-32.5,"i":30},{"s":"film","f":-33.3,"i":24},{"s":"film","f":-33.9,"i":131},{"s":"film","f":-34.5,"i":15},{"s":"film","f":-35.2,"i":31},{"s":"film","f":-36,"i":27},{"s":"film","f":-37,"i":19},{"s":"film","f":-38,"i":8},{"s":"film","f":-39,"i":28},{"s":"film","f":-40,"i":33},{"s":"film","f":-41,"i":10},{"s":"film","f":-42,"i":19},{"s":"film","f":-43,"i":32},{"s":"film","f":-44,"i":25},{"s":"film","f":-45,"i":20},{"s":"film","f":-46,"i":11},{"s":"film","f":-47,"i":14},{"s":"film","f":-48,"i":34},{"s":"film","f":-49.8,"i":17},{"s":"film","f":-50.2,"i":23},{"s":"film","f":-50.8,"i":101},{"s":"film","f":-51.4,"i":20},{"s":"film","f":-52.5,"i":30},{"s":"film","f":-53.3,"i":25},{"s":"film","f":-53.9,"i":92},{"s":"film","f":-54.5,"i":18},{"s":"film","f":-55.2,"i":27},{"s":"film","f":-56,"i":32},{"s":"film","f":-57,"i":17},{"s":"film","f":-58,"i":9},{"s":"film","f":-59,"i":31},{"s":"film","f":-60,"i":24},{"s":"film","f":-61,"i":12},{"s":"film","f":-62,"i":14},{"s":"film","f":-63,"i":26},{"s":"film","f":-64,"i":36},{"s":"film","f":-65,"i":9},{"s":"film","f":-66,"i":20},{"s":"film","f":-67,"i":29},{"s":"film","f":-68,"i":7},{"s":"film","f":-69,"i":15},{"s":"film","f":-70,"i":27},{"s":"film","f":-70.5,"i":25},{"s":"film","f":-71.1,"i":94},{"s":"film","f":-71.7,"i":19},{"s":"film","f":-73,"i":30},{"s":"film","f":-73.5,"i":22},{"s":"film","f":-74,"i":35},{"s":"film","f":-74.5,"i":15},{"s":"film","f":-75.2,"i":33},{"s":"film","f":-76,"i":26},{"s":"film","f":-77,"i":14},{"s":"film","f":-78,"i":5},{"s":"film","f":-79,"i":32},{"s":"film","f":-80,"i":28},{"s":"film","f":-81,"i":10},{"s":"film","f":-82,"i":18},{"s":"film","f":-83,"i":27},{"s":"film","f":-84,"i":34},{"s":"film","f":-85,"i":20},{"s":"film","f":-86,"i":12},{"s":"film","f":-87,"i":35},{"s":"film","f":-88,"i":25},{"s":"film","f":-89,"i":9},{"s":"film","f":-90,"i":21},{"s":"film","f":-90.4,"i":24},{"s":"film","f":-91,"i":80},{"s":"film","f":-91.6,"i":16},{"s":"film","f":-93,"i":31},{"s":"film","f":-94,"i":22},{"s":"film","f":-95,"i":9},{"s":"film","f":-96,"i":34},{"s":"film","f":-97,"i":27},{"s":"film","f":-98,"i":11},{"s":"film","f":-99,"i":15},{"s":"film","f":-100,"i":29},{"s":"film","f":-101,"i":36},{"s":"film","f":-102,"i":18},{"s":"film","f":-103,"i":11},{"s":"film","f":-104,"i":33},{"s":"film","f":-105,"i":24},{"s":"film","f":-106,"i":9},{"s":"film","f":-107,"i":30},{"s":"film","f":-108,"i":26},{"s":"film","f":-109,"i":8},{"s":"film","f":-110,"i":14},{"s":"film","f":-110.9,"i":26},{"s":"film","f":-111.5,"i":82},{"s":"film","f":-112.1,"i":18},{"s":"film","f":-113,"i":20},{"s":"film","f":-114,"i":33},{"s":"film","f":-115,"i":29},{"s":"film","f":-116,"i":13},{"s":"film","f":-117,"i":8},{"s":"film","f":-118,"i":25},{"s":"film","f":-119,"i":31},{"s":"film","f":-120,"i":6},{"s":"film","f":-121,"i":16},{"s":"film","f":-122,"i":29},{"s":"film","f":-123,"i":26},{"s":"film","f":-124,"i":19},{"s":"film","f":-125,"i":11},{"s":"film","f":-126,"i":35},{"s":"film","f":-127,"i":30},{"s":"film","f":-128,"i":10},{"s":"film","f":-129,"i":18},{"s":"film","f":-130,"i":23},{"s":"film","f":-131.4,"i":28},{"s":"film","f":-132,"i":66},{"s":"film","f":-132.6,"i":17},{"s":"film","f":-133,"i":14},{"s":"film","f":-134,"i":31},{"s":"film","f":-135,"i":27},{"s":"film","f":-136,"i":9},{"s":"film","f":-137,"i":19},{"s":"film","f":-138,"i":26},{"s":"film","f":-139,"i":33},{"s":"film","f":-140,"i":15},{"s":"film","f":-141,"i":10},{"s":"film","f":-142,"i":34},{"s":"film","f":-143,"i":28},{"s":"film","f":-144,"i":21},{"s":"film","f":-145,"i":16},{"s":"film","f":-146,"i":7},{"s":"film","f":-147,"i":30},{"s":"film","f":-148,"i":28},{"s":"film","f":-149,"i":12},{"s":"film","f":-150,"i":18},{"s":"film","f":-151.4,"i":27},{"s":"film","f":-152,"i":61},{"s":"film","f":-152.6,"i":14},{"s":"film","f":-154,"i":32},{"s":"film","f":-155,"i":24},{"s":"film","f":-156,"i":10},{"s":"film","f":-157,"i":33},{"s":"film","f":-158,"i":25},{"s":"film","f":-159,"i":11},{"s":"film","f":-160,"i":17},{"s":"film","f":-161,"i":28},{"s":"film","f":-162,"i":36},{"s":"film","f":-163,"i":20},{"s":"film","f":-164,"i":12},{"s":"film","f":-165,"i":35},{"s":"film","f":-166,"i":27},{"s":"film","f":-167,"i":14},{"s":"film","f":-168,"i":6},{"s":"film","f":-169,"i":26},{"s":"film","f":-170,"i":29},{"s":"film","f":-171,"i":10},{"s":"film","f":-172,"i":20},{"s":"film","f":-173,"i":31},{"s":"film","f":-174,"i":33},{"s":"film","f":-175,"i":19},{"s":"film","f":-176,"i":13},{"s":"film","f":-177,"i":34},{"s":"film","f":-178,"i":24},{"s":"film","f":-179,"i":15},{"s":"film","f":-180,"i":9},{"s":"film","f":-181,"i":25},{"s":"film","f":-182,"i":30},{"s":"film","f":-183,"i":8},{"s":"film","f":-184,"i":18},{"s":"film","f":-185,"i":29},{"s":"film","f":-186,"i":35},{"s":"film","f":-187,"i":20},{"s":"film","f":-188,"i":11},{"s":"film","f":-189,"i":33},{"s":"film","f":-190,"i":26},{"s":"film","f":-191,"i":12},{"s":"film","f":-192,"i":16},{"s":"film","f":-193,"i":24},{"s":"film","f":-194,"i":31},{"s":"film","f":-195,"i":30},{"s":"film","f":-196,"i":7},{"s":"film","f":-197,"i":14},{"s":"film","f":-198,"i":24},{"s":"film","f":-199,"i":27},{"s":"film","f":-200,"i":34},{"s":"film","f":-201,"i":9},{"s":"film","f":-202,"i":13},{"s":"film","f":-203,"i":31},{"s":"film","f":-204,"i":27},{"s":"film","f":-205,"i":22},{"s":"film","f":-206,"i":19},{"s":"film","f":-207,"i":12},{"s":"film","f":-208,"i":32},{"s":"film","f":-209,"i":28},{"s":"film","f":-210,"i":8},{"s":"film","f":-211,"i":17},{"s":"film","f":-212,"i":25},{"s":"film","f":-213,"i":33},{"s":"film","f":-214,"i":15},{"s":"film","f":-215,"i":9},{"s":"film","f":-216,"i":30},{"s":"film","f":-217,"i":26},{"s":"film","f":-218,"i":21},{"s":"film","f":-219,"i":19},{"s":"film","f":-220,"i":10},{"s":"film","f":-221,"i":34},{"s":"film","f":-222,"i":28},{"s":"film","f":-223,"i":12},{"s":"film","f":-224,"i":17},{"s":"film","f":-225,"i":25},{"s":"film","f":-226,"i":33},{"s":"film","f":-227,"i":16},{"s":"film","f":-228,"i":22}
 ],
 "cT": [
{"t":"c)","x":179,"y":358,"s":"k"},
{"t":"bulk","x":178.3,"y":220,"s":"bulk"},
{"t":"thin film","x":178.3,"y":65,"s":"film"}
 ],
 "cDag": [{"t":"†","x":-3.5,"y":83,"s":"k"}],
 "cBox": [
{"x1":-22.2,"x2":-39.5,"y1":10,"y2":309},
{"x1":-76.1,"x2":-222.7,"y1":270,"y2":373}
 ],
 "cLink": [{"x1":-39.5,"x2":-76.1,"y1":309,"y2":322}],
 "cTick": [{"v":175},{"v":125},{"v":75},{"v":25},{"v":-25},{"v":-75},{"v":-125},{"v":-175},{"v":-225}],
 "cTickL": [{"v":150},{"v":50},{"v":-50},{"v":-150},{"v":-200}],
 "ci": [
{"s":"bulk","f":-22,"i":325},{"s":"bulk","f":-22.5,"i":326},{"s":"bulk","f":-23,"i":324},{"s":"bulk","f":-23.5,"i":326},{"s":"bulk","f":-24,"i":325},{"s":"bulk","f":-24.5,"i":327},{"s":"bulk","f":-25,"i":326},{"s":"bulk","f":-25.5,"i":328},{"s":"bulk","f":-26,"i":329},{"s":"bulk","f":-26.5,"i":331},{"s":"bulk","f":-27,"i":336},{"s":"bulk","f":-27.5,"i":342},{"s":"bulk","f":-27.8,"i":345},{"s":"bulk","f":-28.1,"i":340},{"s":"bulk","f":-28.4,"i":330},{"s":"bulk","f":-28.8,"i":326},{"s":"bulk","f":-29.3,"i":325},{"s":"bulk","f":-29.8,"i":326},{"s":"bulk","f":-30.3,"i":325},{"s":"bulk","f":-30.8,"i":324},{"s":"bulk","f":-31.3,"i":325},{"s":"bulk","f":-31.8,"i":326},{"s":"bulk","f":-32.3,"i":324},{"s":"bulk","f":-32.8,"i":325},{"s":"bulk","f":-33.3,"i":326},{"s":"bulk","f":-33.8,"i":324},{"s":"bulk","f":-34.3,"i":325},{"s":"bulk","f":-34.8,"i":326},{"s":"bulk","f":-35.3,"i":325},{"s":"bulk","f":-35.8,"i":326},{"s":"bulk","f":-36.3,"i":327},{"s":"bulk","f":-36.7,"i":340},{"s":"bulk","f":-37.1,"i":363},{"s":"bulk","f":-37.5,"i":340},{"s":"bulk","f":-37.9,"i":327},{"s":"bulk","f":-38.4,"i":325},{"s":"bulk","f":-38.9,"i":326},{"s":"bulk","f":-39.4,"i":328},{"s":"bulk","f":-39.9,"i":325},{"s":"bulk","f":-40.5,"i":323},
{"s":"film","f":-22,"i":284},{"s":"film","f":-22.4,"i":281},{"s":"film","f":-22.8,"i":286},{"s":"film","f":-23.2,"i":288},{"s":"film","f":-23.6,"i":283},{"s":"film","f":-24,"i":287},{"s":"film","f":-24.4,"i":282},{"s":"film","f":-24.8,"i":285},{"s":"film","f":-25.2,"i":281},{"s":"film","f":-25.6,"i":284},{"s":"film","f":-26,"i":288},{"s":"film","f":-26.4,"i":287},{"s":"film","f":-26.8,"i":290},{"s":"film","f":-27.2,"i":292},{"s":"film","f":-27.6,"i":297},{"s":"film","f":-27.9,"i":298},{"s":"film","f":-28.2,"i":290},{"s":"film","f":-28.5,"i":284},{"s":"film","f":-28.9,"i":283},{"s":"film","f":-29.3,"i":286},{"s":"film","f":-29.7,"i":281},{"s":"film","f":-30.1,"i":280},{"s":"film","f":-30.5,"i":287},{"s":"film","f":-30.9,"i":279},{"s":"film","f":-31.3,"i":285},{"s":"film","f":-31.7,"i":280},{"s":"film","f":-32.1,"i":289},{"s":"film","f":-32.5,"i":282},{"s":"film","f":-32.9,"i":284},{"s":"film","f":-33.3,"i":283},{"s":"film","f":-33.7,"i":286},{"s":"film","f":-34.1,"i":282},{"s":"film","f":-34.5,"i":284},{"s":"film","f":-34.9,"i":287},{"s":"film","f":-35.3,"i":285},{"s":"film","f":-35.7,"i":286},{"s":"film","f":-36.1,"i":284},{"s":"film","f":-36.5,"i":288},{"s":"film","f":-36.8,"i":300},{"s":"film","f":-37.1,"i":318},{"s":"film","f":-37.4,"i":300},{"s":"film","f":-37.7,"i":286},{"s":"film","f":-38.1,"i":283},{"s":"film","f":-38.5,"i":282},{"s":"film","f":-38.9,"i":285},{"s":"film","f":-39.3,"i":280},{"s":"film","f":-39.7,"i":286},{"s":"film","f":-40.1,"i":279},{"s":"film","f":-40.5,"i":284}
 ],
 "ciT": [
{"t":"FA","x":-23.8,"y":348,"s":"k"},
{"t":"MA","x":-32.8,"y":348,"s":"k"}
 ]
},
"vconcat": [
 {
  "width": 611, "height": 317,
  "layer": [
   {"data": {"name": "a"}, "mark": {"type": "line", "strokeWidth": 2.5, "strokeJoin": "round"},
    "encoding": {
     "x": {"field": "f", "type": "quantitative", "scale": {"domain": [2243, -2121], "nice": false, "zero": false},
      "axis": {"title": "¹³³Cs shift [ppm]", "values": [2000, 1000, 0, -1000, -2000], "tickSize": 15, "labelExpr": "'' + datum.value"}},
     "y": {"field": "i", "type": "quantitative", "scale": {"domain": [0, 317], "nice": false, "zero": false}, "axis": null},
     "color": {"field": "s", "type": "nominal", "scale": {"domain": ["bulk","film","fama","k"], "range": ["#3a56a5","#e31f26","#14914a","#000000"]}, "legend": null}
    }},
   {"data": {"name": "aTick"}, "mark": {"type": "rule", "color": "#000", "strokeWidth": 2},
    "encoding": {
     "x": {"field": "v", "type": "quantitative"},
     "y": {"datum": 0, "type": "quantitative"},
     "y2": {"datum": -8}
    }},
   {"data": {"name": "aT"}, "mark": {"type": "text", "align": "left", "baseline": "middle", "fontSize": 24},
    "encoding": {
     "x": {"field": "x", "type": "quantitative"},
     "y": {"field": "y", "type": "quantitative"},
     "text": {"field": "t"},
     "color": {"field": "s", "type": "nominal", "scale": {"domain": ["bulk","film","fama","k"], "range": ["#3a56a5","#e31f26","#14914a","#000000"]}, "legend": null}
    }},
   {"data": {"name": "aR"}, "mark": {"type": "text", "align": "right", "baseline": "middle", "fontSize": 24, "color": "#000"},
    "encoding": {
     "x": {"field": "x", "type": "quantitative"},
     "y": {"field": "y", "type": "quantitative"},
     "text": {"field": "t"}
    }}
  ]
 },
 {
  "width": 611, "height": 405,
  "layer": [
   {"data": {"name": "b"}, "mark": {"type": "line", "strokeWidth": 1.8, "strokeJoin": "round"},
    "encoding": {
     "x": {"field": "f", "type": "quantitative", "scale": {"domain": [229, -48], "nice": false, "zero": false},
      "axis": {"title": "¹³C chemical shift [ppm]", "values": [200, 150, 100, 50, 0], "tickSize": 15, "labelExpr": "'' + datum.value"}},
     "y": {"field": "i", "type": "quantitative", "scale": {"domain": [0, 405], "nice": false, "zero": false}, "axis": null},
     "color": {"field": "s", "type": "nominal", "scale": {"domain": ["bulk","film","fama","k"], "range": ["#3a56a5","#e31f26","#14914a","#000000"]}, "legend": null}
    }},
   {"data": {"name": "bTick"}, "mark": {"type": "rule", "color": "#000", "strokeWidth": 2},
    "encoding": {
     "x": {"field": "v", "type": "quantitative"},
     "y": {"datum": 0, "type": "quantitative"},
     "y2": {"datum": -8}
    }},
   {"data": {"name": "bT"}, "mark": {"type": "text", "align": "left", "baseline": "middle", "fontSize": 24},
    "encoding": {
     "x": {"field": "x", "type": "quantitative"},
     "y": {"field": "y", "type": "quantitative"},
     "text": {"field": "t"},
     "color": {"field": "s", "type": "nominal", "scale": {"domain": ["bulk","film","fama","k"], "range": ["#3a56a5","#e31f26","#14914a","#000000"]}, "legend": null}
    }},
   {"data": {"name": "bG"}, "mark": {"type": "text", "align": "left", "baseline": "alphabetic", "fontSize": 22, "color": "#14914a"},
    "encoding": {
     "x": {"field": "x", "type": "quantitative"},
     "y": {"field": "y", "type": "quantitative"},
     "text": {"field": "t"}
    }},
   {"data": {"name": "bGs"}, "mark": {"type": "text", "align": "left", "baseline": "alphabetic", "fontSize": 13, "color": "#14914a"},
    "encoding": {
     "x": {"field": "x", "type": "quantitative"},
     "y": {"field": "y", "type": "quantitative"},
     "text": {"field": "t"}
    }}
  ]
 },
 {
  "width": 611, "height": 386,
  "resolve": {"scale": {"x": "independent"}},
  "layer": [
   {"layer": [
     {"data": {"name": "c"}, "mark": {"type": "line", "strokeWidth": 1.2, "strokeJoin": "round"},
      "encoding": {
       "x": {"field": "f", "type": "quantitative", "scale": {"domain": [179, -228], "nice": false, "zero": false},
        "axis": {"title": "¹⁴N frequency [kHz]", "values": [100, 0, -100], "tickSize": 15, "labelExpr": "'' + datum.value"}},
       "y": {"field": "i", "type": "quantitative", "scale": {"domain": [0, 386], "nice": false, "zero": false}, "axis": null},
       "color": {"field": "s", "type": "nominal", "scale": {"domain": ["bulk","film","fama","k"], "range": ["#3a56a5","#e31f26","#14914a","#000000"]}, "legend": null}
      }},
     {"data": {"name": "cTick"}, "mark": {"type": "rule", "color": "#000", "strokeWidth": 2},
      "encoding": {
       "x": {"field": "v", "type": "quantitative"},
       "y": {"datum": 0, "type": "quantitative"},
       "y2": {"datum": -8}
      }},
     {"data": {"name": "cTickL"}, "mark": {"type": "rule", "color": "#000", "strokeWidth": 2},
      "encoding": {
       "x": {"field": "v", "type": "quantitative"},
       "y": {"datum": 0, "type": "quantitative"},
       "y2": {"datum": -15}
      }},
     {"data": {"name": "cBox"}, "mark": {"type": "rect", "fillOpacity": 0, "stroke": "#000", "strokeWidth": 2.5, "strokeDash": [2, 2]},
      "encoding": {
       "x": {"field": "x1", "type": "quantitative"}, "x2": {"field": "x2"},
       "y": {"field": "y1", "type": "quantitative"}, "y2": {"field": "y2"}
      }},
     {"data": {"name": "cLink"}, "mark": {"type": "rule", "stroke": "#000", "strokeWidth": 2.5, "strokeDash": [2, 2]},
      "encoding": {
       "x": {"field": "x1", "type": "quantitative"}, "x2": {"field": "x2"},
       "y": {"field": "y1", "type": "quantitative"}, "y2": {"field": "y2"}
      }},
     {"data": {"name": "cT"}, "mark": {"type": "text", "align": "left", "baseline": "middle", "fontSize": 24},
      "encoding": {
       "x": {"field": "x", "type": "quantitative"},
       "y": {"field": "y", "type": "quantitative"},
       "text": {"field": "t"},
       "color": {"field": "s", "type": "nominal", "scale": {"domain": ["bulk","film","fama","k"], "range": ["#3a56a5","#e31f26","#14914a","#000000"]}, "legend": null}
      }},
     {"data": {"name": "cDag"}, "mark": {"type": "text", "align": "center", "baseline": "middle", "fontSize": 27, "color": "#000"},
      "encoding": {
       "x": {"field": "x", "type": "quantitative"},
       "y": {"field": "y", "type": "quantitative"},
       "text": {"field": "t"}
      }}
   ]},
   {"layer": [
     {"data": {"name": "ci"}, "mark": {"type": "line", "strokeWidth": 1.8, "strokeJoin": "round"},
      "encoding": {
       "x": {"field": "f", "type": "quantitative", "scale": {"domain": [14.54, -42.56], "nice": false, "zero": false}, "axis": null},
       "y": {"field": "i", "type": "quantitative", "scale": {"domain": [0, 386], "nice": false, "zero": false}, "axis": null},
       "color": {"field": "s", "type": "nominal", "scale": {"domain": ["bulk","film","fama","k"], "range": ["#3a56a5","#e31f26","#14914a","#000000"]}, "legend": null}
      }},
     {"data": {"name": "ciT"}, "mark": {"type": "text", "align": "left", "baseline": "middle", "fontSize": 24, "color": "#000"},
      "encoding": {
       "x": {"field": "x", "type": "quantitative"},
       "y": {"field": "y", "type": "quantitative"},
       "text": {"field": "t"}
      }}
   ]}
  ]
 }
]
}
